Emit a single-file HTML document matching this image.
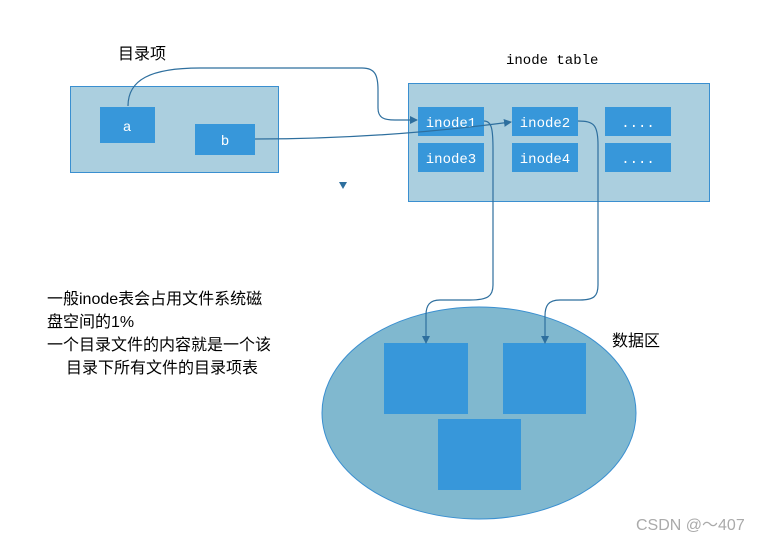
<!DOCTYPE html>
<html><head><meta charset="utf-8"><style>
body{margin:0;background:#fff;}
svg text{font-family:"Liberation Sans","Noto Sans CJK SC",sans-serif;}
.m{font-family:"Liberation Mono","DejaVu Sans Mono",monospace;fill:#fff;font-size:14px;}
</style></head><body>
<svg width="778" height="540" viewBox="0 0 778 540" xmlns="http://www.w3.org/2000/svg">
<defs><marker id="ar" markerWidth="8" markerHeight="8" refX="7" refY="4" orient="auto" markerUnits="userSpaceOnUse"><path d="M0,0 L8,4 L0,8 Z" fill="#2e6f9e"/></marker></defs>
<rect width="778" height="540" fill="#fff"/>
<rect x="70.5" y="86.5" width="208" height="86" fill="#abcfdf" stroke="#3a8fd0"/>
<rect x="100" y="107" width="55" height="36" fill="#3797da"/>
<text x="127" y="131" font-size="14" fill="#fff" text-anchor="middle">a</text>
<rect x="195" y="124" width="60" height="31" fill="#3797da"/>
<text x="225" y="145" font-size="14" fill="#fff" text-anchor="middle">b</text>
<text x="118" y="59" font-size="16" fill="#000">目录项</text>
<text x="506" y="64" class="m" style="fill:#000">inode table</text>
<rect x="408.5" y="83.5" width="301" height="118" fill="#abcfdf" stroke="#3a8fd0"/>
<rect x="418" y="107" width="66" height="29" fill="#3797da"/>
<rect x="512" y="107" width="66" height="29" fill="#3797da"/>
<rect x="605" y="107" width="66" height="29" fill="#3797da"/>
<rect x="418" y="143" width="66" height="29" fill="#3797da"/>
<rect x="512" y="143" width="66" height="29" fill="#3797da"/>
<rect x="605" y="143" width="66" height="29" fill="#3797da"/>
<text x="451" y="127" class="m" text-anchor="middle">inode1</text>
<text x="545" y="127" class="m" text-anchor="middle">inode2</text>
<text x="638" y="127" class="m" text-anchor="middle">....</text>
<text x="451" y="163" class="m" text-anchor="middle">inode3</text>
<text x="545" y="163" class="m" text-anchor="middle">inode4</text>
<text x="638" y="163" class="m" text-anchor="middle">....</text>
<path d="M339,182 L347,182 L343,189 Z" fill="#2e6f9e"/>
<ellipse cx="479" cy="413" rx="157" ry="106" fill="#80b8cf" stroke="#3a8fd0"/>
<rect x="384" y="343" width="84" height="71" fill="#3797da"/>
<rect x="503" y="343" width="83" height="71" fill="#3797da"/>
<rect x="438" y="419" width="83" height="71" fill="#3797da"/>
<g fill="none" stroke="#2e6f9e" stroke-width="1.2">
<path d="M128,106 C128,80 150,68 200,68 L362,68 C375,68 378,75 378,90 L378,108 C378,118 384,120 395,120 L417,120" marker-end="url(#ar)"/>
<path d="M255,139 C330,139 420,134 511,122" marker-end="url(#ar)"/>
<path d="M484,121 C492,121 493,130 493,150 L493,285 C493,296 488,300 470,300 L440,300 C430,300 426,305 426,315 L426,343" marker-end="url(#ar)"/>
<path d="M578,121 C594,121 598,125 598,145 L598,285 C598,296 594,300 580,300 L560,300 C548,300 545,306 545,316 L545,343" marker-end="url(#ar)"/>
</g>
<g font-size="16" fill="#000">
<text x="47" y="304">一般inode表会占用文件系统磁</text>
<text x="47" y="327">盘空间的1%</text>
<text x="47" y="350">一个目录文件的内容就是一个该</text>
<text x="66" y="373">目录下所有文件的目录项表</text>
<text x="612" y="346">数据区</text>
</g>
<text x="636" y="530" font-size="16" fill="#aaa">CSDN @～407</text>
</svg>
</body></html>
